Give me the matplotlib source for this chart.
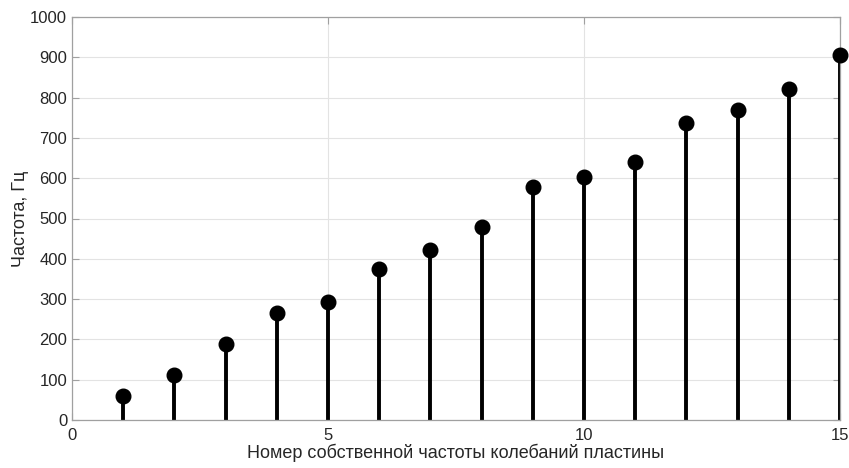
import matplotlib
matplotlib.use("Agg")
import matplotlib.pyplot as plt
import numpy as np

mode_numbers = list(range(1, 16))
frequencies = [60, 112, 188, 266, 292, 374, 422, 480, 579, 602, 641, 738, 768, 821, 906]
x_ticks = [0, 5, 10, 15]
y_ticks = list(range(0, 1001, 100))

plt.rcParams['font.family'] = ['Liberation Sans Narrow', 'Liberation Sans', 'DejaVu Sans']

fig = plt.figure(figsize=(8.49, 4.68), dpi=100)
ax = fig.add_axes([72/849, 48/468, 768/849, 403/468])

markerline, stemlines, baseline = ax.stem(mode_numbers, frequencies, linefmt='k-', markerfmt='ko', basefmt=' ')
plt.setp(stemlines, linewidth=2.8)
plt.setp(markerline, markersize=10.5, clip_on=False, zorder=5)

ax.set_xlim(0, 15)
ax.set_ylim(0, 1000)
ax.set_xticks(x_ticks)
ax.set_yticks(y_ticks)
ax.grid(True, color='#e3e3e3', linewidth=0.8)
ax.set_axisbelow(True)
for s in ax.spines.values():
    s.set_color('#a0a0a0')
    s.set_linewidth(0.9)
ax.tick_params(direction='in', length=5, colors='#a0a0a0', labelcolor='#262626', labelsize=12, top=True, right=True)
ax.tick_params(axis='x', pad=6)
ax.set_xlabel('Номер собственной частоты колебаний пластины', fontsize=13, color='#262626', labelpad=0)
ax.set_ylabel('Частота, Гц', fontsize=13, color='#262626', labelpad=1)

fig.savefig('out.png', dpi=100)
